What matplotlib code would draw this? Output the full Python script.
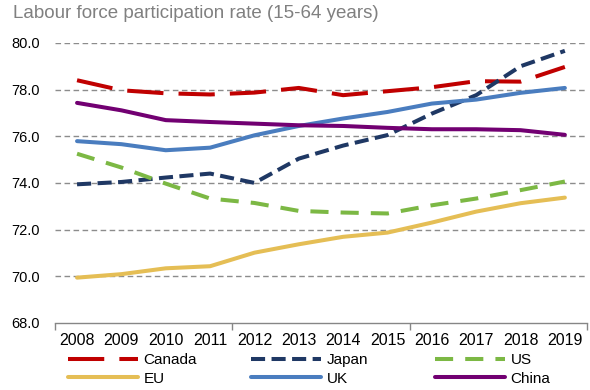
import matplotlib.pyplot as plt
from matplotlib.ticker import FixedLocator, NullFormatter

plt.rcParams['font.family'] = ['Liberation Sans', 'DejaVu Sans']

years = [str(y) for y in range(2008, 2020)]

canada = [78.40, 77.97, 77.84, 77.79, 77.87, 78.07, 77.76, 77.93, 78.10, 78.36, 78.34, 78.97]
japan = [73.94, 74.04, 74.23, 74.40, 74.00, 75.04, 75.60, 76.05, 76.97, 77.76, 79.00, 79.66]
us = [75.25, 74.66, 73.97, 73.33, 73.14, 72.80, 72.73, 72.69, 73.04, 73.33, 73.69, 74.06]
eu = [69.94, 70.09, 70.34, 70.43, 71.01, 71.37, 71.69, 71.87, 72.30, 72.77, 73.13, 73.37]
uk = [75.79, 75.66, 75.40, 75.51, 76.04, 76.44, 76.76, 77.04, 77.40, 77.57, 77.86, 78.07]
china = [77.43, 77.11, 76.69, 76.61, 76.54, 76.47, 76.44, 76.36, 76.30, 76.30, 76.26, 76.06]

y_ticks = [68, 70, 72, 74, 76, 78, 80]

fig = plt.figure(figsize=(5.9, 3.9), dpi=100)
ax = fig.add_axes([0.093, 0.172, 0.902, 0.718])

x = list(range(len(years)))
lw = 2.9
l_canada, = ax.plot(x, canada, color='#C00000', lw=lw, dashes=(9, 3.75), label='Canada')
l_japan, = ax.plot(x, japan, color='#1F3864', lw=lw, dashes=(3.5, 1.6), label='Japan')
l_us, = ax.plot(x, us, color='#7CB844', lw=lw, dashes=(4.5, 3), label='US')
l_eu, = ax.plot(x, eu, color='#E5BE55', lw=lw, solid_capstyle='round', label='EU')
l_uk, = ax.plot(x, uk, color='#4A7DBF', lw=lw, solid_capstyle='round', label='UK')
l_china, = ax.plot(x, china, color='#720072', lw=lw, solid_capstyle='round', label='China')

ax.set_xlim(-0.5, len(years) - 0.5)
ax.set_ylim(68, 80)
ax.set_yticks(y_ticks)
ax.set_yticklabels([f'{v:.1f}' for v in y_ticks])
ax.set_xticks(x)
ax.set_xticklabels(years)
ax.xaxis.set_minor_locator(FixedLocator([-0.5, 3.5, 7.5, 11.5]))
ax.xaxis.set_minor_formatter(NullFormatter())
ax.tick_params(axis='x', which='major', length=0, pad=7, labelsize=11.5)
ax.tick_params(axis='x', which='minor', length=5, color='#868686', width=1)
ax.tick_params(axis='y', length=0, pad=11, labelsize=10.5)

for v in y_ticks[1:]:
    ax.axhline(v, color='#8C8C8C', lw=1, dashes=(4, 2.5), zorder=0)

for s in ['top', 'right', 'left']:
    ax.spines[s].set_visible(False)
ax.spines['bottom'].set_color('#868686')
ax.spines['bottom'].set_linewidth(1)

fig.text(13 / 590, 1 - 14 / 390, 'Labour force participation rate (15-64 years)',
         fontsize=13.5, color='#808080', va='center', ha='left')

# legend as three columns of two rows
legend_font = {'size': 11}
for handles, xpos in [([l_canada, l_eu], 68), ([l_japan, l_uk], 251), ([l_us, l_china], 435)]:
    fig.legend(handles=handles, loc='upper left', bbox_to_anchor=(xpos / 590, 1 - 353 / 390),
               frameon=False, prop=legend_font, handlelength=4.6, handletextpad=0.35,
               labelspacing=0.3, borderpad=0, borderaxespad=0)

fig.savefig('out.png', dpi=100)
